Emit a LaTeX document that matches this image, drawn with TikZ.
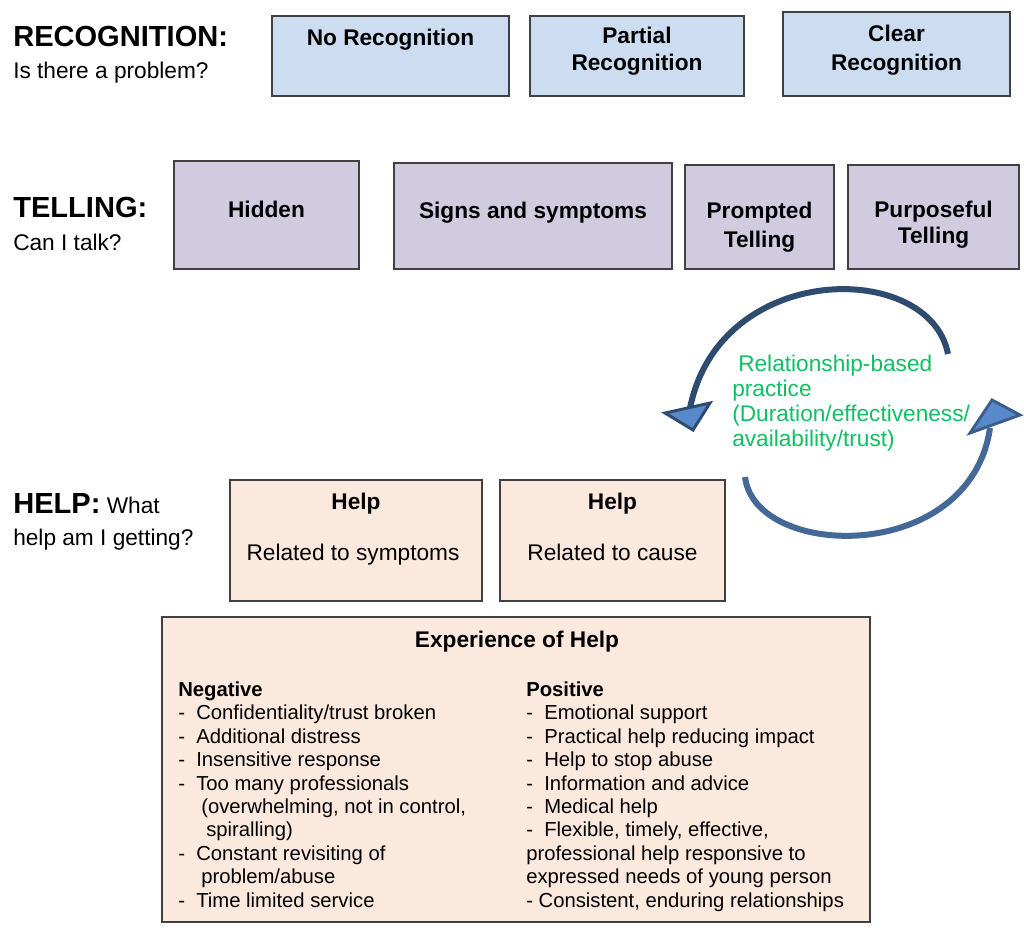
\documentclass[tikz,border=0pt]{standalone}
\usepackage{fontspec}
\setmainfont{Liberation Sans}
\usepackage{tikz}

\newcommand{\dashitem}{\makebox[13.5pt][l]{-}}

\begin{document}
\begin{tikzpicture}[x=0.75pt,y=0.75pt,yscale=-1,xscale=1,
  recbox/.style={draw={rgb, 255:red, 64; green, 64; blue, 64 }, line width=1.1pt, fill={rgb, 255:red, 205; green, 221; blue, 241 }},
  tellbox/.style={draw={rgb, 255:red, 64; green, 64; blue, 64 }, line width=1.1pt, fill={rgb, 255:red, 208; green, 203; blue, 223 }},
  helpbox/.style={draw={rgb, 255:red, 64; green, 64; blue, 64 }, line width=1.1pt, fill={rgb, 255:red, 251; green, 233; blue, 221 }},
  boxtext/.style={anchor=base, inner sep=0pt, align=center, font=\fontsize{17}{20.25}\selectfont\bfseries},
  plaintext/.style={anchor=base, inner sep=0pt, font=\fontsize{17}{20.5}\selectfont},
  headtext/.style={anchor=base west, inner sep=0pt, font=\fontsize{21.8}{26}\selectfont\bfseries},
  asktext/.style={anchor=base west, inner sep=0pt, font=\fontsize{17}{20.5}\selectfont},
  listtext/.style={anchor=base west, inner sep=0pt, align=left, font=\fontsize{15.2}{17.55}\selectfont},
  arcline/.style={line width=4.5pt},
  headtip/.style={line width=2.2pt, line join=miter, fill={rgb, 255:red, 88; green, 138; blue, 203 }}
]
\path[use as bounding box] (0,0) rectangle (1024,932);

% Row labels
\node (recog) [headtext] at (13,46) {RECOGNITION:};
\node (recogask) [asktext] at (13,78) {Is there a problem?};
\node (telling) [headtext] at (13,217) {TELLING:};
\node (tellask) [asktext] at (13,250) {Can I talk?};
\node (helphead) [headtext] at (13,513) {HELP:{\mdseries\fontsize{17}{20.5}\selectfont{} What}};
\node (helpask) [asktext] at (13,545) {help am I getting?};

%Shape: Rectangle (recognition)
\draw [recbox] (272,16) rectangle (509,96);
\draw [recbox] (530,16) rectangle (744,96);
\draw [recbox] (783,12) rectangle (1010,96);
% Text Node (base = last line)
\node (norecog) [boxtext] at (390.5,45) {No Recognition};
\node (partrecog) [boxtext] at (637,70) {Partial\\Recognition};
\node (clearrecog) [boxtext] at (896.5,70) {Clear\\[1.5pt]Recognition};

%Shape: Rectangle (telling)
\draw [tellbox] (174,161) rectangle (359,269);
\draw [tellbox] (394,163) rectangle (672,269);
\draw [tellbox] (685,165) rectangle (834,269);
\draw [tellbox] (848,165) rectangle (1019,269);
% Text Node
\node (hidden) [boxtext] at (266.5,217) {Hidden};
\node (signs) [boxtext] at (533,218) {Signs and symptoms};
\node (prompted) [boxtext] at (759.5,247) {Prompted\\[1.5pt]Telling};
\node (purposeful) [boxtext] at (933.5,243) {Purposeful\\[-0.75pt]Telling};

%Shape: Rectangle (help)
\draw [helpbox] (230,480) rectangle (482,601);
\draw [helpbox] (500,480) rectangle (725,601);
% Text Node
\node (helpsym) [boxtext] at (356,509) {Help};
\node (helpsymtext) [plaintext] at (353,560) {Related to symptoms};
\node (helpcause) [boxtext] at (612.5,509) {Help};
\node (helpcausetext) [plaintext] at (612.5,560) {Related to cause};

%Curved Arrows
\coordinate (toparcstart) at (948,354);
\coordinate (toparcend) at (690,408);
\coordinate (botarcstart) at (745,477);
\coordinate (botarcend) at (990,428);
\draw [arcline, color={rgb, 255:red, 46; green, 75; blue, 112 }] (toparcstart) .. controls (930,260) and (720,260) .. (toparcend);
\filldraw [headtip, draw={rgb, 255:red, 46; green, 75; blue, 112 }] (665,413) -- (710,403) -- (693,430) -- cycle;
\draw [arcline, color={rgb, 255:red, 68; green, 104; blue, 152 }] (botarcstart) .. controls (755,560) and (970,565) .. (botarcend);
\filldraw [headtip, draw={rgb, 255:red, 60; green, 94; blue, 140 }] (1020,415) -- (992,400) -- (970,433) -- cycle;

% Text Node
\node (relpractice) [anchor=base west, inner sep=0pt, align=left, font=\fontsize{17}{18.75}\selectfont, color={rgb, 255:red, 16; green, 190; blue, 100 }] at (732,446) {\hspace*{4.5pt}Relationship-based\\practice\\(Duration/effectiveness/\\availability/trust)};

%Shape: Rectangle (experience)
\draw [helpbox] (162,617) rectangle (870,922);
% Text Node
\node (experience) [boxtext] at (517,647) {Experience of Help};
\node (negative) [listtext] at (178,907) {\textbf{Negative}\\
\dashitem Confidentiality/trust broken\\
\dashitem Additional distress\\
\dashitem Insensitive response\\
\dashitem Too many professionals\\
\hspace*{17.25pt}(overwhelming, not in control,\\
\hspace*{21pt}spiralling)\\
\dashitem Constant revisiting of\\
\hspace*{17.25pt}problem/abuse\\
\dashitem Time limited service};
\node (positive) [listtext] at (526,907) {\textbf{Positive}\\
\dashitem Emotional support\\
\dashitem Practical help reducing impact\\
\dashitem Help to stop abuse\\
\dashitem Information and advice\\
\dashitem Medical help\\
\dashitem Flexible, timely, effective,\\
professional help responsive to\\
expressed needs of young person\\
- Consistent, enduring relationships};

\end{tikzpicture}
\end{document}
